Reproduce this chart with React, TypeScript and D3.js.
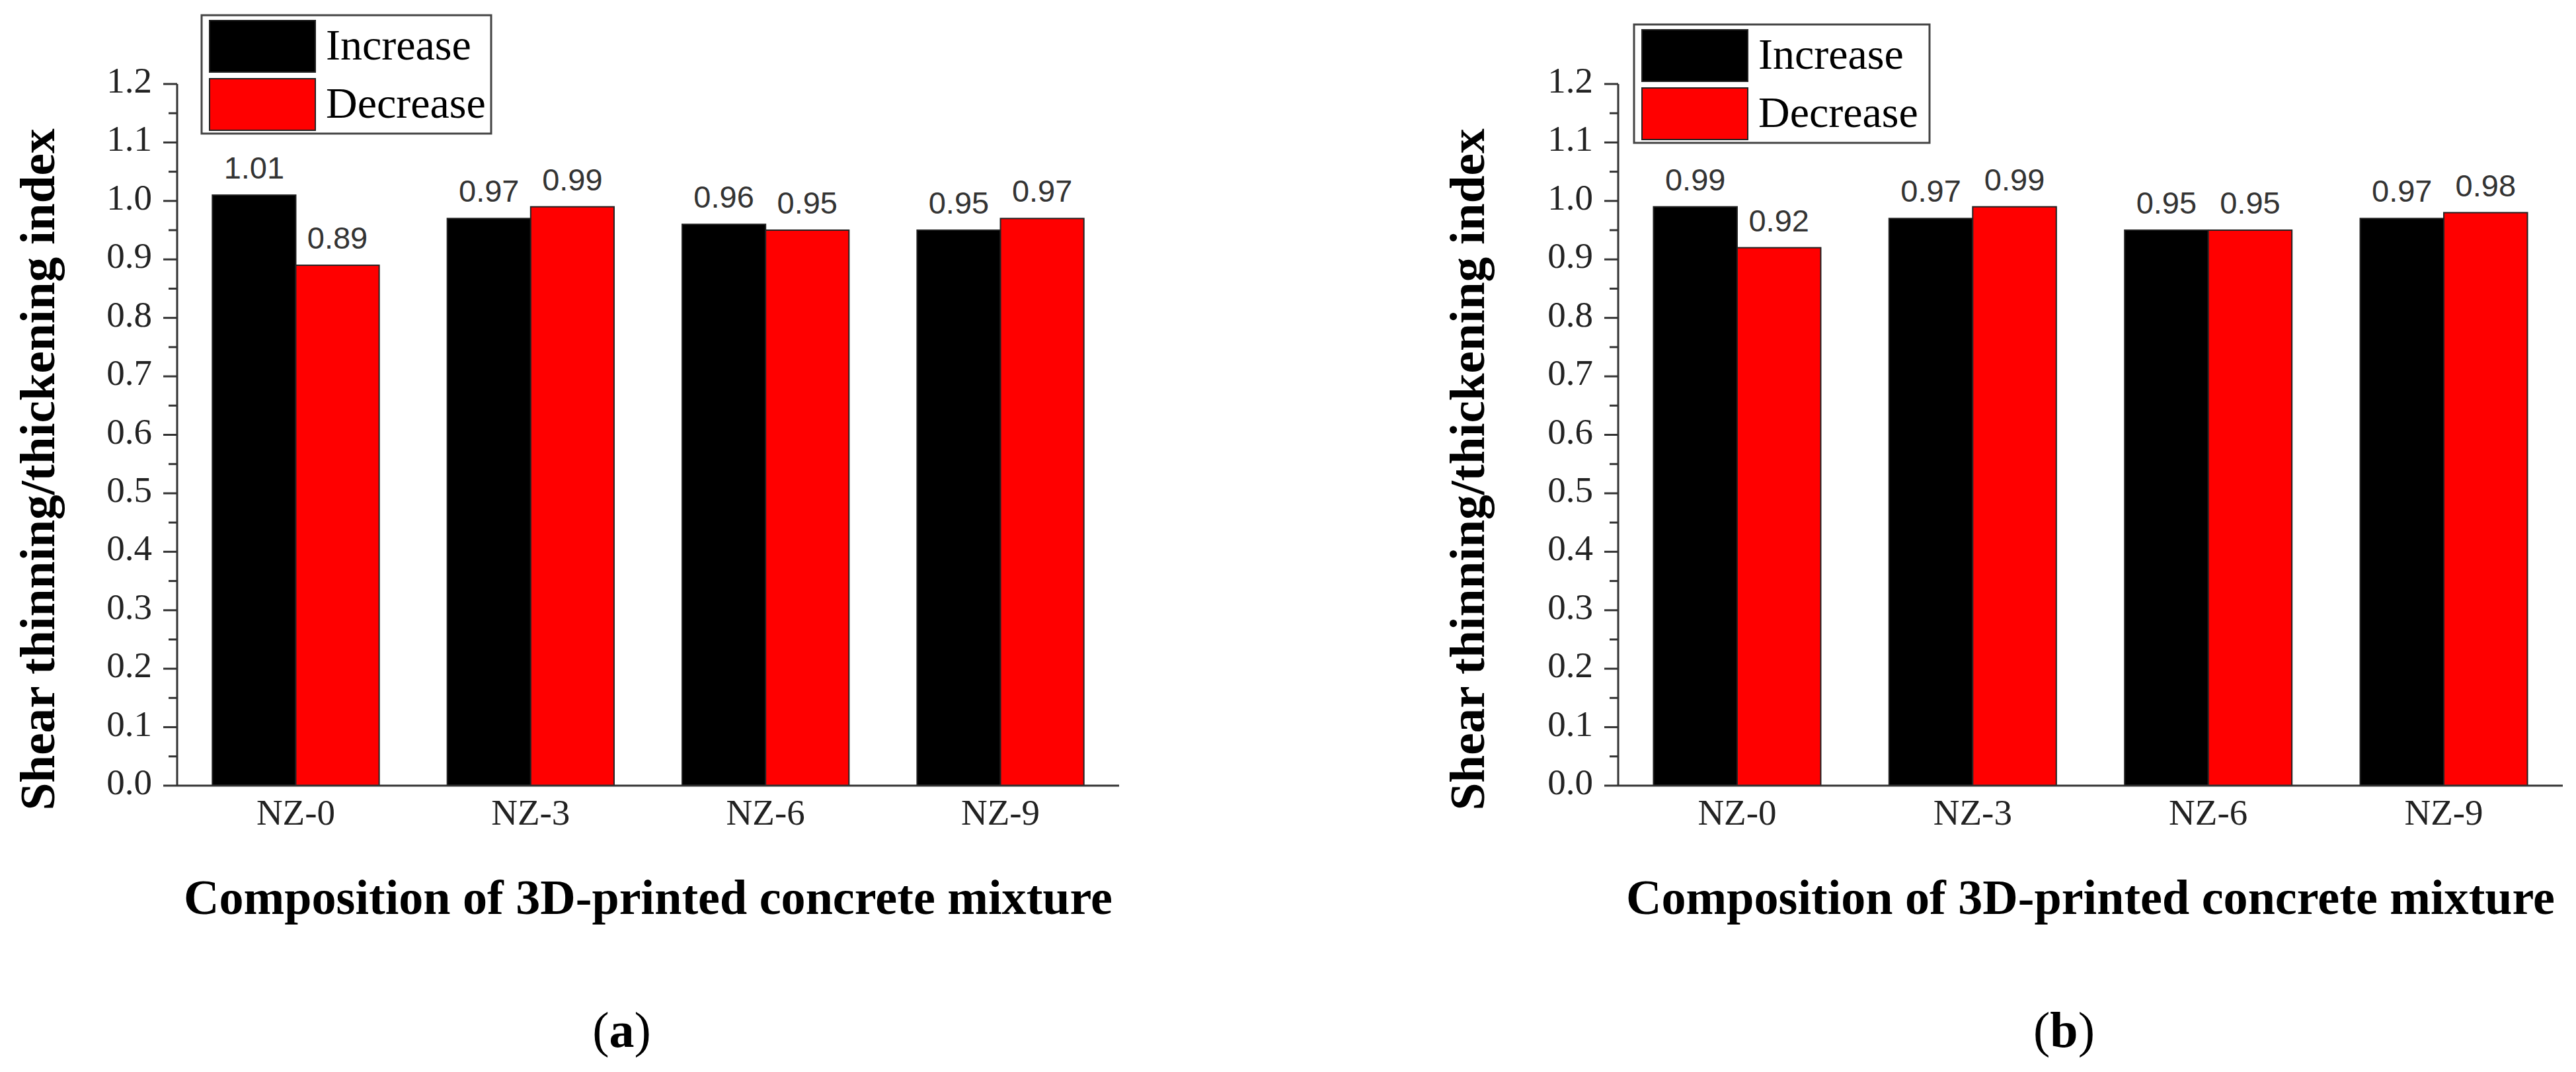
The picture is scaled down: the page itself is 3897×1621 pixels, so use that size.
import * as d3 from 'd3';

const categories = ['NZ-0', 'NZ-3', 'NZ-6', 'NZ-9'];
const seriesNames = ['Increase', 'Decrease'];
const seriesColors = ['#000000', '#ff0000'];
const increaseA = [1.01, 0.97, 0.96, 0.95];
const decreaseA = [0.89, 0.99, 0.95, 0.97];
const increaseB = [0.99, 0.97, 0.95, 0.97];
const decreaseB = [0.92, 0.99, 0.95, 0.98];
const yMajorTicks = [0, 0.1, 0.2, 0.3, 0.4, 0.5, 0.6, 0.7, 0.8, 0.9, 1.0, 1.1, 1.2];
const yMinorTicks = [0.05, 0.15, 0.25, 0.35, 0.45, 0.55, 0.65, 0.75, 0.85, 0.95, 1.05, 1.15];
const yTitle = 'Shear thinning/thickening index';
const xTitle = 'Composition of 3D-printed concrete mixture';

const SERIF = "'Palatino Linotype', 'Book Antiqua', Palatino, 'Liberation Serif', serif";
const SANS = "Arial, 'Liberation Sans', sans-serif";
const AXIS = '#333';

interface PanelProps {
  x0: number;
  x1: number;
  values: number[][];
  legend: { x: number; y: number; w: number };
  yTitleX: number;
  caption: string;
}

const top = 127;
const bottom = 1188;

function Panel({ x0, x1, values, legend, yTitleX, caption }: PanelProps) {
  const y = d3.scaleLinear().domain([0, 1.2]).range([bottom, top]);
  const x = d3.scaleBand().domain(categories).range([x0, x1]).paddingInner(0.29).paddingOuter(0.15);
  const xs = d3.scaleBand().domain(seriesNames).range([0, x.bandwidth()]);
  const cx = (x0 + x1) / 2;

  return (
    <g>
      {/* bars */}
      {categories.map((c, i) => (
        <g key={c}>
          {seriesNames.map((s, j) => {
            const v = values[j][i];
            const bx = (x(c) ?? 0) + (xs(s) ?? 0);
            return (
              <g key={s}>
                <rect x={bx} y={y(v)} width={xs.bandwidth()} height={y(0) - y(v)}
                  fill={seriesColors[j]} stroke="#222" strokeWidth={2} />
                <text x={bx + xs.bandwidth() / 2} y={y(v) - 25} textAnchor="middle"
                  fontFamily={SANS} fontSize={47} fill="#333">{v.toFixed(2)}</text>
              </g>
            );
          })}
        </g>
      ))}

      {/* y axis */}
      <line x1={x0} x2={x0} y1={top} y2={bottom} stroke={AXIS} strokeWidth={3} />
      {yMajorTicks.map(t => (
        <g key={t}>
          <line x1={x0 - 21} x2={x0} y1={y(t)} y2={y(t)} stroke={AXIS} strokeWidth={3} />
          <text x={x0 - 38} y={y(t) + 13} textAnchor="end" fontFamily={SERIF} fontSize={55} fill="#222">
            {t.toFixed(1)}
          </text>
        </g>
      ))}
      {yMinorTicks.map(t => (
        <line key={t} x1={x0 - 13} x2={x0} y1={y(t)} y2={y(t)} stroke={AXIS} strokeWidth={3} />
      ))}

      {/* x axis */}
      <line x1={x0} x2={x1} y1={bottom} y2={bottom} stroke={AXIS} strokeWidth={3} />
      {categories.map(c => (
        <text key={c} x={(x(c) ?? 0) + x.bandwidth() / 2} y={1247} textAnchor="middle"
          fontFamily={SERIF} fontSize={55} fill="#222">{c}</text>
      ))}

      {/* titles */}
      <text x={cx} y={1382} textAnchor="middle" fontFamily={SERIF} fontWeight="bold" fontSize={73}
        textLength={1405} lengthAdjust="spacingAndGlyphs">{xTitle}</text>
      <text transform={`translate(${yTitleX},710) rotate(-90)`} textAnchor="middle" fontFamily={SERIF}
        fontWeight="bold" fontSize={74} textLength={1031} lengthAdjust="spacingAndGlyphs">{yTitle}</text>

      {/* legend */}
      <rect x={legend.x} y={legend.y} width={legend.w} height={179} fill="#fff" stroke="#444" strokeWidth={3} />
      {seriesNames.map((s, j) => (
        <g key={s}>
          <rect x={legend.x + 12} y={legend.y + 8 + j * 88} width={160} height={78}
            fill={seriesColors[j]} stroke="#222" strokeWidth={2} />
          <text x={legend.x + 188} y={legend.y + 67 + j * 88} fontFamily={SERIF} fontSize={66}
            fill="#000">{s}</text>
        </g>
      ))}

      {/* caption */}
      <text x={cx - 40} y={1583} textAnchor="middle" fontFamily={SERIF} fontSize={76} fill="#000">
        (<tspan fontWeight="bold">{caption}</tspan>)
      </text>
    </g>
  );
}

export default function App() {
  return (
    <svg width={3897} height={1621} viewBox="0 0 3897 1621"
      style={{ position: 'absolute', left: 0, top: 0, background: '#fff' }}>
      <rect width={3897} height={1621} fill="#fff" />
      <Panel x0={268} x1={1693} values={[increaseA, decreaseA]}
        legend={{ x: 305, y: 23, w: 438 }} yTitleX={82} caption="a" />
      <Panel x0={2448} x1={3877} values={[increaseB, decreaseB]}
        legend={{ x: 2472, y: 37, w: 447 }} yTitleX={2245} caption="b" />
    </svg>
  );
}
